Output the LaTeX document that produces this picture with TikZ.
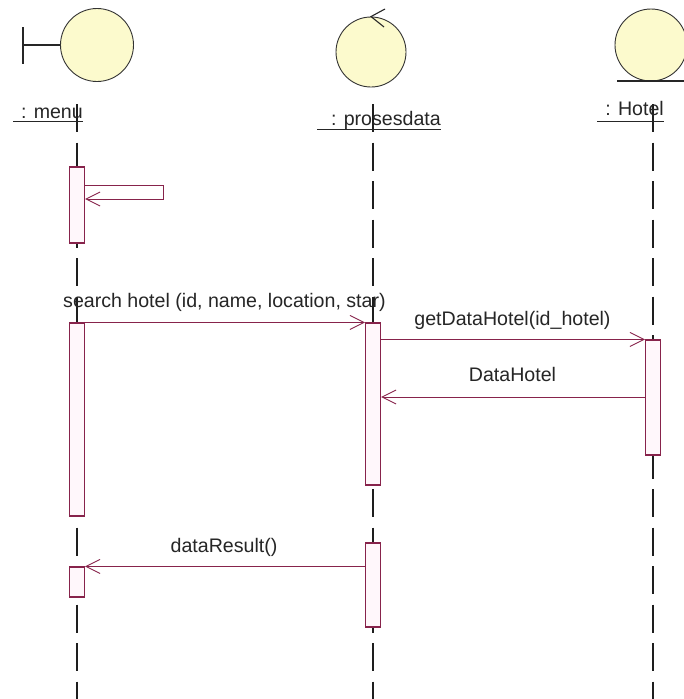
\documentclass[tikz,border=0pt]{standalone}
\usepackage{fontspec}
\setmainfont{Liberation Sans}
\usetikzlibrary{arrows.meta}
\definecolor{umlred}{RGB}{135,35,75}
\definecolor{actfill}{RGB}{255,247,251}
\definecolor{iconfill}{RGB}{252,250,205}
\definecolor{lifegray}{RGB}{30,30,30}
\tikzset{
  life/.style={draw=lifegray, line width=1.3pt, dash pattern=on 28pt off 10.5pt},
  actbox/.style={draw=umlred, fill=actfill, line width=1.1pt, rectangle, inner sep=0pt, minimum width=15pt},
  msg/.style={draw=umlred, line width=1pt, -{Straight Barb[length=14pt,width=14pt,line width=0.9pt]}},
  lbl/.style={font=\fontsize{19.6}{23}\selectfont, inner sep=0pt, text=black!85},
  icon/.style={circle, draw=black!80, fill=iconfill, line width=0.9pt, minimum size=73pt, inner sep=0pt},
  uline/.style={draw=black!85, line width=1pt}
}
\begin{document}
\begin{tikzpicture}[x=1pt, y=-1pt]
\useasboundingbox (0,0) rectangle (684,699);
\clip (0,0) rectangle (684,699);
\fill[white] (0,0) rectangle (684,699);

% actor icons
\node[icon] (menuicon) at (97,45) {};
\coordinate (bartop) at (23,27);
\coordinate (barbot) at (23,64);
\draw[black!85, line width=1.2pt] (bartop) -- (barbot);
\draw[black!85, line width=1.2pt] (23,45) -- (menuicon.west);

\node[icon, minimum size=70pt] (procicon) at (371,52) {};
\coordinate (ctip) at (procicon.north);
\draw[black!85, line width=1.1pt] (385,9) -- (ctip) -- (384,27);

\node[icon, minimum size=72pt] (hoticon) at (651,45) {};
\coordinate (entl) at (617,81);
\coordinate (entr) at (690,81);
\draw[black!85, line width=1.3pt] (entl) -- (entr);

% lifeline tops and bottoms
\coordinate (mtop) at (77,104);  \coordinate (mbot) at (77,699);
\coordinate (ptop) at (373,104); \coordinate (pbot) at (373,699);
\coordinate (htop) at (653,104); \coordinate (hbot) at (653,699);
\draw[life] (mtop) -- (mbot);
\draw[life] (ptop) -- (pbot);
\draw[life] (htop) -- (hbot);

% object labels
\node[lbl, anchor=base east] (menulbl) at (83,118) {: menu};
\draw[uline] (13,121) -- (83,121);
\node[lbl, anchor=base east] (proclbl) at (441,125) {: prosesdata};
\draw[uline] (317,129) -- (441,129);
\node[lbl, anchor=base east] (hotlbl) at (664,115) {: Hotel};
\draw[uline] (597,121) -- (664,121);

% activation boxes
\node[actbox, minimum height=76pt] (m1) at (77,205) {};
\node[actbox, minimum height=193pt] (m2) at (77,419.5) {};
\node[actbox, minimum height=30pt] (m3) at (77,582) {};
\node[actbox, minimum height=162pt] (p1) at (373,404) {};
\node[actbox, minimum height=84pt] (p2) at (373,585) {};
\node[actbox, minimum height=115pt] (h1) at (653,397.5) {};

% self message
\coordinate (s1) at (163,185);
\coordinate (s2) at (163,199);
\draw[msg] (m1.east |- s1) -- (s1) |- (m1.east |- s2);

% messages
\draw[msg] (m2.north east) -- (p1.north west);
\node[lbl, anchor=base west] (t1) at (63,307) {search hotel (id, name, location, star)};

\draw[msg] (p1.east |- h1.north) -- (h1.north west);
\node[lbl, anchor=base] (t2) at (512.5,325) {getDataHotel(id\_hotel)};

\coordinate (r1) at (653,397);
\draw[msg] (h1.west |- r1) -- (p1.east |- r1);
\node[lbl, anchor=base] (t3) at (512.5,381) {DataHotel};

\draw[msg] (p2.west |- m3.north) -- (m3.north east);
\node[lbl, anchor=base] (t4) at (224,552) {dataResult()};
\end{tikzpicture}
\end{document}
